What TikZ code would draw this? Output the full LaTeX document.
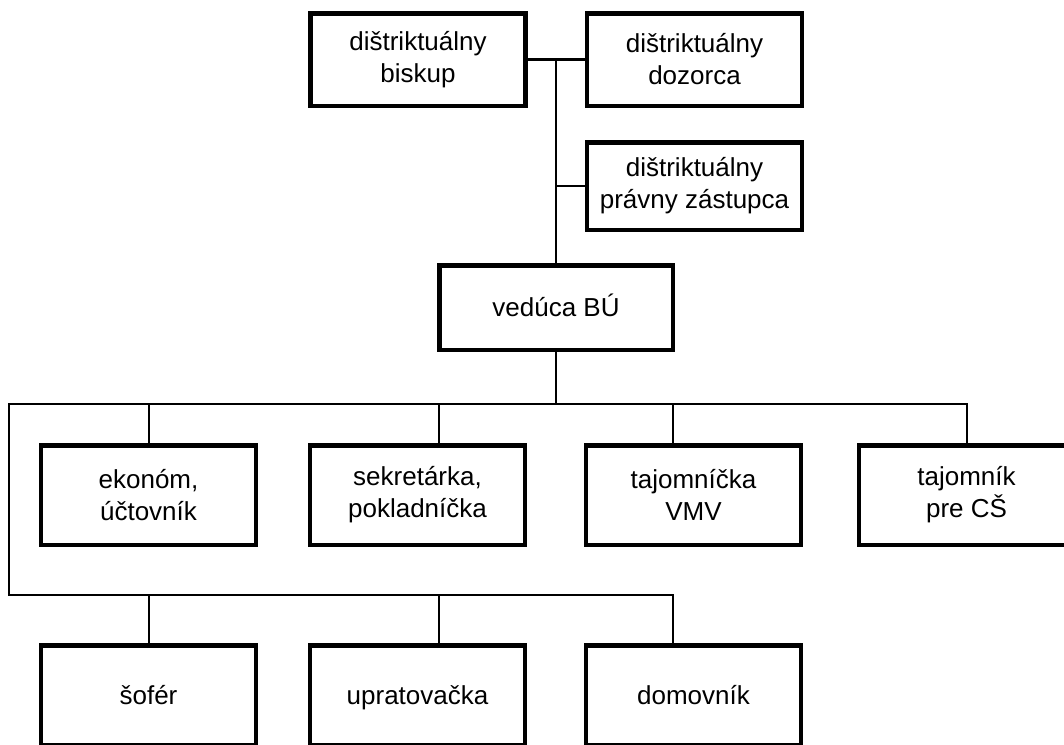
\documentclass[tikz,border=0pt]{standalone}
\usepackage{fontspec}
\setmainfont{Liberation Sans}
\begin{document}
\begin{tikzpicture}[x=1pt,y=-1pt,
  orgbox/.style={draw=black,line width=4.5pt,rectangle,inner sep=0pt,align=center,
    font=\fontsize{26}{32}\selectfont,minimum width=215pt},
  oneline/.style={text height=19pt,text depth=1pt},
  topbox/.style={orgbox,minimum height=92.5pt},
  rowbox/.style={orgbox,minimum height=99.5pt},
  link/.style={draw=black,line width=2.5pt,line cap=rect}]
\useasboundingbox (0,0) rectangle (1064,744);
\fill[white] (0,0) rectangle (1064,744);
\clip (0,0) rectangle (1064,744);
% top
\node[topbox] (bisk) at (418,59.5) {dištriktuálny\\biskup};
\node[topbox] (dozo) at (694.5,59.5) {dištriktuálny\\dozorca};
\node[topbox,minimum height=87.5pt] (prav) at (694.5,186) {dištriktuálny\\právny zástupca};
\node[orgbox,oneline,minimum width=233.5pt,minimum height=84.5pt] (ved) at (556,307.5) {vedúca BÚ};
% row 2
\node[rowbox] (ekon) at (148.5,495) {ekonóm,\\účtovník};
\node[rowbox] (sekr) at (417.5,495) {sekretárka,\\pokladníčka};
\node[rowbox] (tajv) at (693.5,495) {tajomníčka\\VMV};
\node[rowbox] (tajc) at (966.5,495) {tajomník\\pre CŠ};
% row 3
\node[rowbox,oneline] (sofe) at (148.5,695) {šofér};
\node[rowbox,oneline] (upra) at (417.5,695) {upratovačka};
\node[rowbox,oneline] (domo) at (693.5,695) {domovník};
% bus coordinates
\coordinate (v1) at (556,59.5);
\coordinate (v2) at (556,186);
\coordinate (bL) at (9,404);
\coordinate (b1) at (149,404);
\coordinate (bv) at (556,404);
\coordinate (b2) at (439,404);
\coordinate (b3) at (673,404);
\coordinate (b4) at (967,404);
\coordinate (cL) at (9,595);
\coordinate (c1) at (149,595);
\coordinate (c2) at (439,595);
\coordinate (c3) at (673,595);
% connectors
\draw[link] (bisk.east) -- (dozo.west);
\draw[link] (v1) -- (ved.north);
\draw[link] (v2) -- (prav.west);
\draw[link] (ved.south) -- (bv);
\draw[link] (bL) -- (b4);
\draw[link] (b1) -- (ekon.north -| b1);
\draw[link] (b2) -- (sekr.north -| b2);
\draw[link] (b3) -- (tajv.north -| b3);
\draw[link] (b4) -- (tajc.north -| b4);
\draw[link] (bL) -- (cL) -- (c3);
\draw[link] (c1) -- (sofe.north -| c1);
\draw[link] (c2) -- (upra.north -| c2);
\draw[link] (c3) -- (domo.north -| c3);
\end{tikzpicture}
\end{document}
